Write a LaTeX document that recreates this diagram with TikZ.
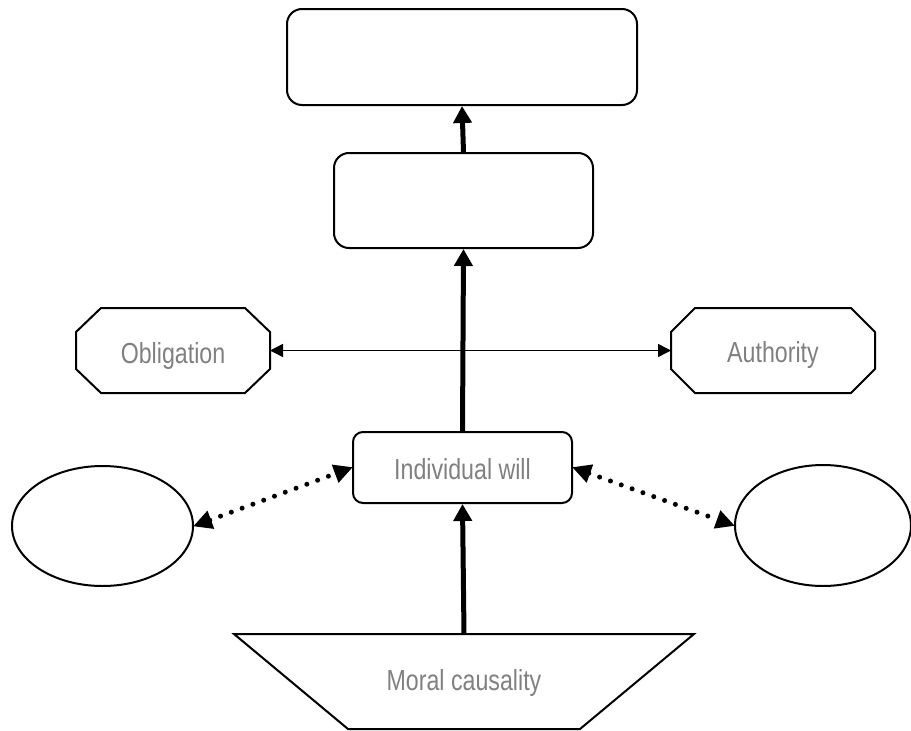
\documentclass[tikz,border=0pt]{standalone}
\usepackage{graphicx}
\usepackage{fontspec}
\setmainfont{Liberation Sans}
\usetikzlibrary{arrows.meta,shapes.geometric}
\definecolor{labelgray}{RGB}{128,128,128}
\newcommand{\narrowtext}[1]{\scalebox{0.8}[1]{#1}}
\tikzset{
  box/.style={draw, line width=2pt, rounded corners=15pt, fill=white},
  smallbox/.style={draw, line width=2pt, rounded corners=10pt, fill=white},
  frame/.style={inner sep=0pt, outer sep=1pt},
  outline/.style={line width=2pt, line join=miter},
  oval/.style={draw, line width=2pt, ellipse, inner sep=0pt},
  txt/.style={text=labelgray, font=\fontsize{29}{34}\selectfont, anchor=base, inner sep=0pt},
  heavyarrow/.style={line width=5pt, -{Triangle[length=17pt,width=18pt]}},
  thinarrow/.style={line width=1.4pt, {Triangle[length=13pt,width=13pt]}-{Triangle[length=13pt,width=13pt]}},
  dotarrow/.style={line width=5pt, line cap=round, dash pattern=on 0pt off 11.5pt,
    {Triangle[length=19pt,width=18pt,sep=-1pt]}-{Triangle[length=19pt,width=18pt,sep=-1pt]}}
}
% octagon drawn round a frame node, #1 = frame name, #2 = chamfer x, #3 = chamfer y
\newcommand{\octagonround}[3]{%
  \draw[outline] ([xshift=#2]#1.north west) -- ([xshift=-#2]#1.north east)
    -- ([yshift=-#3]#1.north east) -- ([yshift=#3]#1.south east)
    -- ([xshift=-#2]#1.south east) -- ([xshift=#2]#1.south west)
    -- ([yshift=#3]#1.south west) -- ([yshift=-#3]#1.north west) -- cycle;}
\begin{document}
\begin{tikzpicture}[x=1pt,y=-1pt]
\useasboundingbox (0,0) rectangle (911,731);

% boxes in the upper column
\node[box, minimum width=350pt, minimum height=96pt] (top) at (462,57) {};
\node[box, minimum width=259pt, minimum height=95pt] (mid) at (463.5,200.5) {};

% side octagons
\node[frame, minimum width=192pt, minimum height=83pt,
  label={[txt, yshift=-5.5pt]center:\narrowtext{Obligation}}] (obl) at (173,350.5) {};
\octagonround{obl}{25pt}{24pt}
\node[frame, minimum width=202pt, minimum height=83pt,
  label={[txt, yshift=-4.5pt]center:\narrowtext{Authority}}] (auth) at (773,350.5) {};
\octagonround{auth}{24pt}{24pt}

% central box
\node[smallbox, minimum width=219pt, minimum height=71pt,
  label={[txt, yshift=-1.5pt]center:\narrowtext{Individual will}}] (iw) at (462.5,467.5) {};

% ellipses on both sides
\node[oval, minimum width=181pt, minimum height=120pt] (le) at (102.5,526) {};
\node[oval, minimum width=176pt, minimum height=121pt] (re) at (823,525.5) {};

% base trapezium
\node[minimum width=460pt, minimum height=95pt, inner sep=0pt, outer sep=0pt,
  label={[txt, yshift=-1.5pt]center:\narrowtext{Moral causality}}] (mc) at (464,681.5) {};
\draw[outline] (mc.north west) -- (mc.north east)
  -- ([xshift=-114pt]mc.south east) -- ([xshift=114pt]mc.south west) -- cycle;

% connectors
\draw[heavyarrow] (mid.north) -- (top.south);
\draw[heavyarrow] (iw.north) -- (mid.south);
\draw[heavyarrow] (mc.north) -- (iw.south);
\draw[thinarrow] (obl.east) -- (auth.west);
\draw[dotarrow] (le.east) -- (iw.west);
\draw[dotarrow] (iw.east) -- (re.west);
\end{tikzpicture}
\end{document}
